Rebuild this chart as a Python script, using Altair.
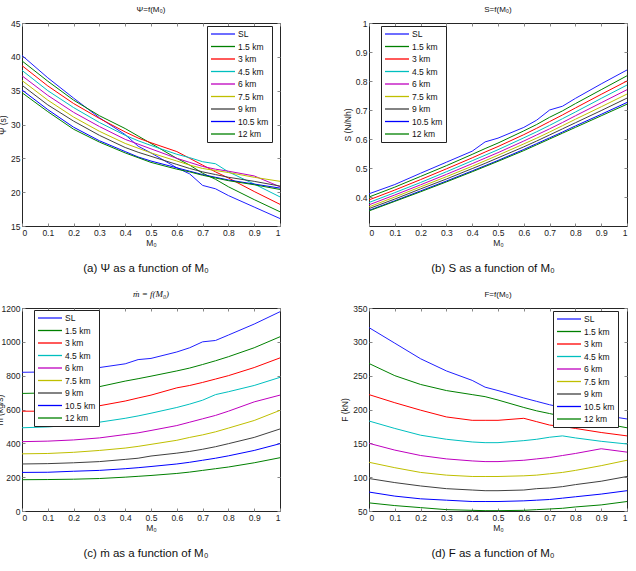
import altair as alt
import pandas as pd

M0 = [0, 0.1, 0.2, 0.3, 0.4, 0.45, 0.5, 0.6, 0.65, 0.7, 0.75, 0.8, 0.9, 1.0]
ALTS = ["SL", "1.5 km", "3 km", "4.5 km", "6 km", "7.5 km", "9 km", "10.5 km", "12 km"]
COLORS = ["#1f1fff", "#008000", "#ff0000", "#00bfbf", "#bf00bf", "#bfbf00", "#404040", "#0000ff", "#008000"]
XTICKS = [0, 0.1, 0.2, 0.3, 0.4, 0.5, 0.6, 0.7, 0.8, 0.9, 1.0]

psi = [
    [40.2, 36.9, 33.9, 31.0, 28.5, 26.8, 25.8, 23.6, 22.7, 21.0, 20.5, 19.5, 17.8, 16.1],
    [39.4, 36.4, 33.6, 31.3, 29.4, 28.3, 27.2, 25.0, 24.0, 22.8, 21.9, 20.8, 18.9, 17.1],
    [38.7, 35.7, 33.1, 30.9, 28.9, 28.0, 27.3, 26.0, 25.0, 24.0, 23.0, 22.1, 20.1, 18.2],
    [38.0, 35.0, 32.5, 30.3, 28.4, 27.6, 26.9, 25.6, 25.1, 24.5, 24.2, 23.0, 21.2, 19.3],
    [37.2, 34.3, 31.8, 29.7, 27.8, 27.1, 26.4, 25.0, 24.4, 23.8, 23.4, 23.1, 22.4, 20.8],
    [36.5, 33.6, 31.1, 29.0, 27.2, 26.5, 25.8, 24.6, 24.0, 23.5, 23.2, 22.9, 22.2, 21.6],
    [35.8, 32.9, 30.5, 28.4, 26.6, 25.9, 25.3, 24.1, 23.5, 23.0, 22.6, 22.2, 21.6, 20.9],
    [35.1, 32.2, 29.6, 27.6, 26.0, 25.2, 24.6, 23.6, 23.1, 22.6, 22.2, 21.8, 21.2, 20.6],
    [34.7, 31.9, 29.3, 27.4, 25.8, 25.1, 24.4, 23.4, 23.0, 22.5, 22.1, 21.7, 21.1, 20.4],
]
S = [
    [.411, .443, .482, .520, .558, .590, .603, .640, .665, .700, .713, .740, .790, .838],
    [.400, .434, .471, .508, .547, .567, .586, .628, .650, .675, .697, .722, .770, .818],
    [.390, .424, .460, .497, .535, .555, .574, .615, .637, .660, .683, .707, .754, .800],
    [.381, .415, .450, .487, .525, .544, .563, .604, .625, .647, .670, .693, .740, .786],
    [.373, .407, .442, .478, .515, .534, .553, .593, .614, .635, .657, .680, .725, .770],
    [.366, .400, .435, .470, .506, .525, .544, .583, .603, .624, .646, .668, .711, .755],
    [.360, .393, .428, .462, .498, .516, .535, .573, .593, .614, .635, .656, .698, .741],
    [.354, .387, .421, .455, .490, .508, .526, .564, .584, .604, .624, .645, .685, .726],
    [.352, .385, .418, .452, .487, .505, .523, .560, .580, .600, .620, .640, .680, .720],
]
mdot = [
    [820, 822, 832, 848, 870, 895, 902, 940, 965, 1000, 1008, 1040, 1105, 1178],
    [695, 698, 712, 735, 768, 782, 797, 828, 845, 866, 888, 912, 965, 1030],
    [590, 590, 600, 622, 650, 668, 685, 728, 742, 760, 780, 800, 848, 905],
    [492, 497, 508, 525, 548, 562, 578, 612, 632, 655, 688, 705, 742, 790],
    [410, 413, 420, 432, 452, 462, 476, 505, 525, 545, 565, 590, 645, 685],
    [338, 340, 347, 358, 372, 382, 394, 418, 435, 450, 468, 490, 535, 595],
    [278, 280, 285, 292, 305, 312, 325, 342, 352, 365, 380, 398, 435, 485],
    [228, 229, 235, 240, 250, 256, 263, 278, 288, 300, 312, 326, 358, 398],
    [185, 186, 188, 192, 200, 205, 210, 222, 230, 240, 250, 260, 285, 315],
]
F = [
    [321, 298, 275, 257, 243, 233, 228, 217, 212, 207, 203, 199, 192, 186],
    [268, 250, 237, 228, 222, 219, 214, 203, 198, 194, 190, 186, 180, 173],
    [222, 210, 199, 189, 184, 184, 184, 187, 182, 177, 175, 172, 166, 161],
    [183, 172, 162, 156, 152, 151, 151, 154, 156, 159, 161, 158, 153, 149],
    [150, 140, 132, 127, 124, 123, 123, 125, 127, 129, 132, 135, 142, 137],
    [122, 114, 107, 103, 101, 101, 101, 102, 103, 105, 107, 110, 117, 125],
    [98, 92, 87, 83, 81, 80, 80, 81, 83, 84, 86, 89, 94, 101],
    [78, 72, 68, 66, 64, 64, 64, 65, 66, 67, 69, 71, 75, 80],
    [62, 58, 55, 52, 51, 50.5, 50.5, 51, 52, 53, 54, 56, 59, 64],
]

W, H = 258, 203
FONT = "Liberation Sans"


def long_df(series):
    rows = []
    for name, vals in zip(ALTS, series):
        for i, (m, v) in enumerate(zip(M0, vals)):
            rows.append({"M0": m, "v": v, "alt": name, "order": i})
    return pd.DataFrame(rows)


def panel(series, ydom, yticks, ytitle, title, caption, legx, legy, title_font=FONT,
          title_style="normal", ytitle_x=None):
    df = long_df(series)
    xs = alt.Scale(domain=[0, 1], nice=False, zero=False)
    ys = alt.Scale(domain=ydom, nice=False, zero=False)
    cs = alt.Scale(domain=ALTS, range=COLORS)
    base = alt.Chart(df)
    yaxis_kw = dict(values=yticks, format=".5~g", ticks=False, tickSize=0, domain=False, grid=False,
                    labelPadding=2, title=ytitle, titlePadding=3)
    if ytitle_x is not None:
        yaxis_kw["titleX"] = ytitle_x
    lines = base.mark_line(strokeWidth=1, clip=True).encode(
        x=alt.X("M0:Q", scale=xs, axis=alt.Axis(values=XTICKS, format="~g", ticks=False, tickSize=0,
                                                   domain=False, grid=False, labelPadding=2, title="M₀",
                                                   titlePadding=2)),
        y=alt.Y("v:Q", scale=ys, axis=alt.Axis(**yaxis_kw)),
        color=alt.Color("alt:N", scale=cs, sort=ALTS, legend=alt.Legend(
            orient="none", legendX=legx, legendY=legy, title=None,
            symbolType="M-1,0H5", symbolSize=64, symbolStrokeWidth=1.3, labelOffset=18,
            labelFontSize=8.5, labelFont=FONT, labelColor="#111", rowPadding=2.5,
            padding=3, fillColor="#ffffff", strokeColor="#222222", cornerRadius=0)),
        order="order:Q",
    )
    t1 = base.mark_point(opacity=0).encode(
        x=alt.X("M0:Q", scale=xs, axis=alt.Axis(orient="top", offset=-H, values=XTICKS, labels=False,
                                                   domain=False, grid=False, ticks=True, tickSize=3, title=None)),
        y=alt.Y("v:Q", scale=ys, axis=alt.Axis(orient="right", offset=-W, values=yticks, labels=False,
                                                  domain=False, grid=False, ticks=True, tickSize=3, title=None)),
    )
    t2 = base.mark_point(opacity=0).encode(
        x=alt.X("M0:Q", scale=xs, axis=alt.Axis(orient="bottom", offset=-H, values=XTICKS, labels=False,
                                                   domain=False, grid=False, ticks=True, tickSize=3, title=None)),
        y=alt.Y("v:Q", scale=ys, axis=alt.Axis(orient="left", offset=-W, values=yticks, labels=False,
                                                  domain=False, grid=False, ticks=True, tickSize=3, title=None)),
    )
    cap = alt.Chart(alt.Data(values=[{"t": caption}])).mark_text(
        fontSize=11.5, font=FONT, color="#111", baseline="middle", align="center"
    ).encode(text="t:N", x=alt.value(124), y=alt.value(H + 43))
    return alt.layer(lines, t1, t2, cap).resolve_axis(x="independent", y="independent").properties(
        width=W, height=H,
        title=alt.TitleParams(title, fontSize=8 if title_style == "normal" else 9, font=title_font,
                              fontStyle=title_style, fontWeight="normal", offset=5, frame="group",
                              anchor="middle", color="#111"),
    )


pa = panel(psi, [15, 45], [15, 20, 25, 30, 35, 40, 45], "Ψ (s)", "Ψ=f(M₀)",
           "(a)  Ψ as a function of M₀", 185, 3)
pb = panel(S, [0.3, 1.0], [0.4, 0.5, 0.6, 0.7, 0.8, 0.9, 1.0], "S (N/Nh)", "S=f(M₀)",
           "(b)  S as a function of M₀", 12, 3)
pc = panel(mdot, [0, 1200], [0, 200, 400, 600, 800, 1000, 1200], "ṁ (kg/s)", "ṁ = f(M₀)",
           "(c)  ṁ as a function of M₀", 12, 2, title_font="Liberation Serif", title_style="italic",
           ytitle_x=-18)
pd_ = panel(F, [50, 350], [50, 100, 150, 200, 250, 300, 350], "F (kN)", "F=f(M₀)",
            "(d)  F as a function of M₀", 184, 3)

chart = alt.concat(pa, pb, pc, pd_, columns=2, spacing={"row": 82, "column": 89}, bounds="flush")
chart = chart.resolve_scale(color="independent").resolve_legend(color="independent")

chart = chart.properties(
    padding={"left": -6, "top": 5, "right": 0, "bottom": 0},
    background="white",
).configure_view(stroke="#262626", strokeWidth=1).configure_axis(
    labelFont=FONT, labelFontSize=8.5, labelColor="#222", titleFont=FONT, titleFontSize=8.5,
    titleFontWeight="normal", titleColor="#222"
)

chart.save("out.html", embed_options={"renderer": "svg", "actions": False})
